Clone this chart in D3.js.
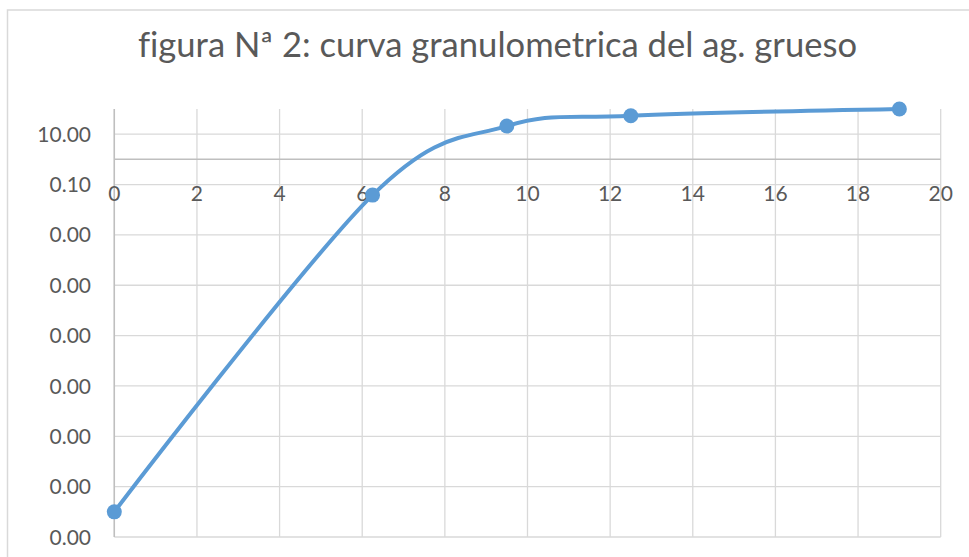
<!DOCTYPE html>
<html>
<head>
<meta charset="utf-8">
<script src="https://cdn.jsdelivr.net/npm/d3@7"></script>
<style>
  body { margin: 0; background: #fff; }
  svg { display: block; font-family: Lato, "Open Sans", sans-serif; font-variant-ligatures: none; }
</style>
</head>
<body>
<div id="chart"></div>
<script>
// datos
const titleText = "figura Nª 2: curva granulometrica del ag. grueso";
const tamices = [0, 6.25, 9.5, 12.5, 19];          // eje x
const pasante = [1e-14, 0.038, 21, 54, 100];        // eje y (log)
const xTicks = [0, 2, 4, 6, 8, 10, 12, 14, 16, 18, 20];
const yTicks = [10, 0.1, 1e-3, 1e-5, 1e-7, 1e-9, 1e-11, 1e-13, 1e-15];

const width = 969, height = 557;
const plot = { left: 114.3, right: 940.7, top: 109, bottom: 537 };

const svg = d3.select("#chart").append("svg")
    .attr("width", width)
    .attr("height", height);

// marco del grafico
svg.append("rect")
    .attr("x", 7.5).attr("y", 10)
    .attr("width", 1000).attr("height", 600)
    .style("fill", "#fff")
    .style("stroke", "#d9d9d9")
    .style("stroke-width", 1.5);

const x = d3.scaleLinear().domain([0, 20]).range([plot.left, plot.right]);
const y = d3.scaleLog().domain([1e-15, 100]).range([plot.bottom, plot.top]);

// lineas de cuadricula
svg.append("g").selectAll("line").data(yTicks).enter().append("line")
    .attr("x1", plot.left).attr("x2", plot.right)
    .attr("y1", d => y(d)).attr("y2", d => y(d))
    .style("stroke", "#d9d9d9").style("stroke-width", 1.3);

svg.append("g").selectAll("line").data(xTicks).enter().append("line")
    .attr("x1", d => x(d)).attr("x2", d => x(d))
    .attr("y1", plot.top).attr("y2", plot.bottom)
    .style("stroke", "#d9d9d9").style("stroke-width", 1.3);

// ejes (el eje x cruza en 1)
svg.append("line")
    .attr("x1", plot.left).attr("x2", plot.right)
    .attr("y1", y(1)).attr("y2", y(1))
    .style("stroke", "#bfbfbf").style("stroke-width", 1.5);
svg.append("line")
    .attr("x1", plot.left).attr("x2", plot.left)
    .attr("y1", plot.top).attr("y2", plot.bottom)
    .style("stroke", "#bfbfbf").style("stroke-width", 1.5);

const fmt = d3.format(".2f");

// etiquetas eje y
svg.append("g").selectAll("text").data(yTicks).enter().append("text")
    .attr("x", 91)
    .attr("y", d => y(d))
    .attr("dy", "0.36em")
    .attr("text-anchor", "end")
    .style("font-size", "21px")
    .style("fill", "#595959")
    .text(d => fmt(d));

// etiquetas eje x
svg.append("g").selectAll("text").data(xTicks).enter().append("text")
    .attr("x", d => x(d))
    .attr("y", 201)
    .attr("text-anchor", "middle")
    .style("font-size", "21px")
    .style("fill", "#595959")
    .text(d => d);

// curva suavizada
const datos = tamices.map((t, i) => ({ x: t, y: pasante[i] }));
const line = d3.line()
    .x(d => x(d.x))
    .y(d => y(d.y))
    .curve(d3.curveCardinal.tension(0));

svg.append("path")
    .datum(datos)
    .attr("d", line)
    .style("fill", "none")
    .style("stroke", "#5b9bd5")
    .style("stroke-width", 4)
    .style("stroke-linecap", "round");

svg.append("g").selectAll("circle").data(datos).enter().append("circle")
    .attr("cx", d => x(d.x))
    .attr("cy", d => y(d.y))
    .attr("r", 7.5)
    .style("fill", "#5b9bd5");

// titulo
const title = svg.append("text")
    .attr("x", 497.5)
    .attr("y", 57)
    .attr("text-anchor", "middle")
    .style("font-size", "33px")
    .style("fill", "#595959")
    .text(titleText);

// ajustar tamaño del titulo al ancho del original (~719px)
const w = title.node().getComputedTextLength();
title.style("font-size", (33 * 719 / w).toFixed(1) + "px");
</script>
</body>
</html>
